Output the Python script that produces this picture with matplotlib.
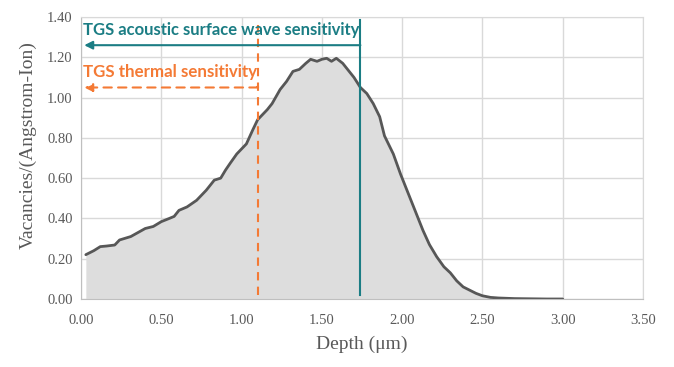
import numpy as np
import matplotlib
matplotlib.use("Agg")
from matplotlib import pyplot as plt

# damage profile
depth = [0.03, 0.08, 0.12, 0.16, 0.21, 0.24, 0.31, 0.40, 0.45, 0.50, 0.55, 0.58,
         0.61, 0.66, 0.72, 0.78, 0.83, 0.87, 0.90, 0.93, 0.97, 1.03, 1.07, 1.10,
         1.16, 1.19, 1.24, 1.28, 1.32, 1.36, 1.40, 1.43, 1.47, 1.50, 1.53, 1.56,
         1.59, 1.63, 1.66, 1.70, 1.74, 1.78, 1.82, 1.86, 1.89, 1.945, 1.99, 2.03,
         2.07, 2.13, 2.17, 2.215, 2.26, 2.30, 2.34, 2.38, 2.46, 2.50, 2.55, 2.60,
         2.70, 2.80, 2.90, 3.00]
vacancies = [0.22, 0.24, 0.26, 0.263, 0.268, 0.293, 0.31, 0.35, 0.36, 0.384, 0.40, 0.41,
             0.44, 0.457, 0.49, 0.54, 0.59, 0.60, 0.64, 0.675, 0.72, 0.77, 0.84, 0.89,
             0.94, 0.97, 1.04, 1.08, 1.13, 1.14, 1.17, 1.19, 1.18, 1.19, 1.195, 1.18,
             1.195, 1.17, 1.14, 1.10, 1.05, 1.02, 0.97, 0.905, 0.81, 0.72, 0.62, 0.54,
             0.46, 0.34, 0.27, 0.21, 0.16, 0.13, 0.09, 0.06, 0.028, 0.016, 0.008, 0.005,
             0.002, 0.001, 0.0, 0.0]

acoustic_depth = 1.74
thermal_depth = 1.10
acoustic_label = "TGS acoustic surface wave sensitivity"
thermal_label = "TGS thermal sensitivity"

teal = "#1b7d84"
orange = "#f47a35"
grid_col = "#d9d9d9"
txt_col = "#595959"

fig = plt.figure(figsize=(6.74, 3.67), dpi=100)
ax = fig.add_axes([0.1202, 0.1853, 0.8338, 0.7684])

ax.fill_between(depth, vacancies, 0, color="#dddddd", lw=0)
ax.plot(depth, vacancies, color="#575757", lw=2, solid_capstyle="round")

# sensitivity markers
ax.plot([acoustic_depth, acoustic_depth], [0.02, 1.385], color=teal, lw=1.5)
ax.annotate("", xy=(0.02, 1.26), xytext=(acoustic_depth, 1.26),
            arrowprops=dict(arrowstyle="-|>", color=teal, lw=1.5,
                            shrinkA=0, shrinkB=0, mutation_scale=12))
ax.text(0.01, 1.335, acoustic_label, color=teal, fontsize=12,
        fontweight="bold", family="Lato", va="center", ha="left")

ax.plot([thermal_depth, thermal_depth], [0.02, 1.36], color=orange, lw=1.5,
        ls=(0, (4, 3)))
ax.plot([thermal_depth - 0.005, thermal_depth], [1.05, 1.05], color=orange, lw=1.5)
ax.annotate("", xy=(0.02, 1.05), xytext=(thermal_depth, 1.05),
            arrowprops=dict(arrowstyle="-|>", color=orange, lw=1.5, ls=(0, (4, 3)),
                            shrinkA=0, shrinkB=0, mutation_scale=12))
ax.text(0.01, 1.125, thermal_label, color=orange, fontsize=12.2,
        fontweight="bold", family="Lato", va="center", ha="left")

ax.set_xlim(0, 3.5)
ax.set_ylim(0, 1.4)
ax.set_xticks(np.arange(0, 3.51, 0.5))
ax.set_yticks(np.arange(0, 1.41, 0.2))
ax.set_xticklabels(["%.2f" % v for v in np.arange(0, 3.51, 0.5)])
ax.set_yticklabels(["%.2f" % v for v in np.arange(0, 1.41, 0.2)])
ax.tick_params(length=0, labelsize=10.5, colors=txt_col)
ax.tick_params(axis="x", pad=11)
ax.tick_params(axis="y", pad=6)
for lab in ax.get_xticklabels() + ax.get_yticklabels():
    lab.set_family("Liberation Serif")
ax.grid(True, color=grid_col, lw=1)
ax.set_axisbelow(True)
for s in ax.spines.values():
    s.set_color(grid_col)
ax.spines["bottom"].set_color("#bfbfbf")
ax.spines["left"].set_color("#bfbfbf")

ax.set_xlabel("Depth (μm)", fontsize=14, color=txt_col, family="Liberation Serif",
              labelpad=6)
ax.set_ylabel("Vacancies/(Angstrom-Ion)", fontsize=14, color=txt_col,
              family="Liberation Serif")
ax.yaxis.set_label_coords(-0.078, 0.546)

fig.savefig("out.png", dpi=100)
